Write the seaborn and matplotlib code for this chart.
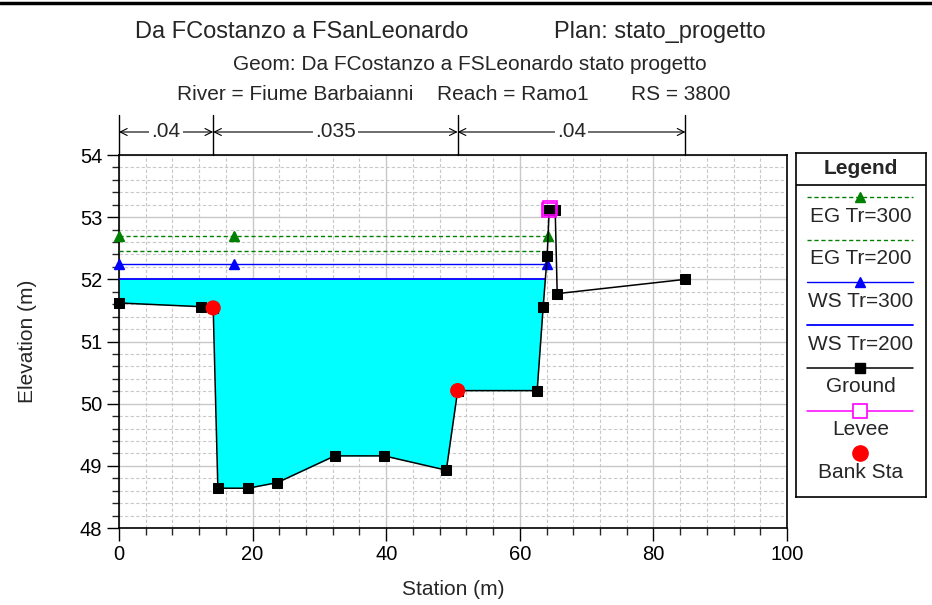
import numpy as np
import matplotlib
matplotlib.use("Agg")
import matplotlib.pyplot as plt
import seaborn as sns
from matplotlib.lines import Line2D

# ---------------- data ----------------
station = [0.0, 12.3, 14.1, 14.8, 19.3, 23.7, 32.3, 39.7, 49.0, 50.7, 62.6, 63.5, 64.1, 64.4, 65.3, 65.6, 84.8]
elevation = [51.62, 51.56, 51.54, 48.64, 48.64, 48.73, 49.16, 49.16, 48.93, 50.21, 50.21, 51.56, 52.38, 53.11, 53.11, 51.77, 52.0]
bank_sta = [14.1, 50.7]
bank_elev = [51.54, 50.21]
levee_sta = [64.35, 64.55]
levee_elev = [53.12, 53.14]
ws_tr200 = 52.00
ws_tr300 = 52.25
eg_tr200 = 52.45
eg_tr300 = 52.70
profile_marker_sta = [0.0, 17.2]
n_values = [".04", ".035", ".04"]
n_breaks = [0.0, 14.1, 50.7, 84.8]
x_ticks = [0, 20, 40, 60, 80, 100]
y_ticks = [48, 49, 50, 51, 52, 53, 54]

sns.set_style("white")
plt.rcParams['font.family'] = ['Liberation Sans', 'DejaVu Sans']

W, H = 932, 605
fig = plt.figure(figsize=(W / 100, H / 100), dpi=100)
ax = fig.add_axes([119 / W, 1 - 528 / H, (787 - 119) / W, (528 - 155) / H])

st = np.array(station)
el = np.array(elevation)


def right_edge(level):
    # first crossing of the water level by the ground on the right side
    for i in range(2, len(st) - 1):
        if el[i] < level <= el[i + 1]:
            return st[i] + (st[i + 1] - st[i]) * (level - el[i]) / (el[i + 1] - el[i])
    return st[-1]


x_ws200 = right_edge(ws_tr200)
x_ws300 = right_edge(ws_tr300)
x_eg200 = right_edge(eg_tr200)
x_eg300 = right_edge(eg_tr300)

# water fill (WS Tr=200)
mask = st < x_ws200
fx = np.append(st[mask], x_ws200)
fy = np.append(el[mask], ws_tr200)
ax.fill_between(fx, fy, ws_tr200, color="#00FFFF", linewidth=0, zorder=2)

# profiles
sns.lineplot(x=[0, x_eg300], y=[eg_tr300, eg_tr300], ax=ax, color="#008000", lw=1.0,
             linestyle=(0, (3, 2)), zorder=3, legend=False)
sns.lineplot(x=[0, x_eg200], y=[eg_tr200, eg_tr200], ax=ax, color="#008000", lw=1.0,
             linestyle=(0, (3, 2)), zorder=3, legend=False)
sns.lineplot(x=[0, x_ws300], y=[ws_tr300, ws_tr300], ax=ax, color="#0000FF", lw=1.0,
             zorder=3, legend=False)
sns.lineplot(x=[0, x_ws200], y=[ws_tr200, ws_tr200], ax=ax, color="#0000FF", lw=1.3,
             zorder=3, legend=False)
ax.plot(profile_marker_sta + [x_eg300], [eg_tr300] * 3, ls="none", marker="^",
        color="#008000", ms=7, zorder=4, clip_on=False)
ax.plot(profile_marker_sta + [x_ws300], [ws_tr300] * 3, ls="none", marker="^",
        color="#0000FF", ms=7, zorder=4, clip_on=False)

# ground
sns.lineplot(x=station, y=elevation, ax=ax, sort=False, estimator=None, color="black",
             lw=1.1, marker="s", markersize=6.5, markeredgecolor="black", zorder=5,
             legend=False, clip_on=False)
# levee
ax.plot(levee_sta, levee_elev, ls="none", marker="s", ms=10, mfc="none",
        mec="#FF00FF", mew=1.2, zorder=6)
# bank stations
sns.scatterplot(x=bank_sta, y=bank_elev, ax=ax, color="#FF0000", s=120,
                edgecolor="none", zorder=7, legend=False)

# axes formatting
ax.set_xlim(0, 100)
ax.set_ylim(48, 54)
ax.set_xticks(x_ticks)
ax.set_yticks(y_ticks)
ax.set_xticks(np.arange(0, 101, 4), minor=True)
ax.set_yticks(np.arange(48, 54.01, 0.2), minor=True)
ax.grid(which="major", color="#c8c8c8", lw=1.0, zorder=0)
ax.grid(which="minor", color="#c8c8c8", lw=0.8, ls=(0, (3, 2)), zorder=0)
ax.set_axisbelow(True)
ax.tick_params(which="major", direction="out", length=9, width=1, labelsize=14.5,
               bottom=True, left=True, colors="black", pad=3)
ax.tick_params(which="minor", direction="out", length=5, width=1, bottom=True, left=True)
for s in ax.spines.values():
    s.set_color("black")
    s.set_linewidth(1.2)
ax.set_xlabel("Station (m)", fontsize=15, labelpad=12)
ax.set_ylabel("Elevation (m)", fontsize=15, labelpad=31)

# Manning's n annotations
y_arr = 54.37
for b in n_breaks:
    ax.plot([b, b], [54.0, 54.65], color="black", lw=1.0, clip_on=False, zorder=3)
for i, n in enumerate(n_values):
    a, b = n_breaks[i], n_breaks[i + 1]
    ax.annotate("", xy=(b, y_arr), xytext=(a, y_arr), annotation_clip=False,
                arrowprops=dict(arrowstyle="<->,head_length=0.5,head_width=0.25",
                                lw=0.8, color="black", shrinkA=0, shrinkB=0))
    ax.text((a + b) / 2, y_arr, n, ha="center", va="center", fontsize=15, clip_on=False,
            bbox=dict(facecolor="white", edgecolor="none", pad=1.5))

# titles
fig.text(301.5 / W, 1 - 32 / H, "Da FCostanzo a FSanLeonardo", ha="center", va="center", fontsize=17)
fig.text(659.5 / W, 1 - 32 / H, "Plan: stato_progetto", ha="center", va="center", fontsize=17)
fig.text(469.5 / W, 1 - 65 / H, "Geom: Da FCostanzo a FSLeonardo stato progetto",
         ha="center", va="center", fontsize=15)
fig.text(177 / W, 1 - 95 / H, "River = Fiume Barbaianni", ha="left", va="center", fontsize=15)
fig.text(437 / W, 1 - 95 / H, "Reach = Ramo1", ha="left", va="center", fontsize=15)
fig.text(631 / W, 1 - 95 / H, "RS = 3800", ha="left", va="center", fontsize=15)

# top border line
fig.add_artist(Line2D([0, 1], [1 - 3 / H, 1 - 3 / H], color="black", lw=2.5))

# legend box
lx0, ly0, lw_, lh_ = 796, 153, 130, 344
lax = fig.add_axes([lx0 / W, 1 - (ly0 + lh_) / H, lw_ / W, lh_ / H])
lax.set_xlim(0, lw_)
lax.set_ylim(lh_, 0)
lax.set_xticks([])
lax.set_yticks([])
for s in lax.spines.values():
    s.set_color("black")
    s.set_linewidth(1.2)
lax.text(lw_ / 2, 16, "Legend", ha="center", va="center", fontsize=15, fontweight="bold")
lax.plot([0, lw_], [32, 32], color="black", lw=1.2)
xl = [11, 117]
xm = 64
entries = [
    ("EG Tr=300", dict(color="#008000", ls=(0, (3, 2)), lw=1.0), dict(marker="^", color="#008000", ms=7)),
    ("EG Tr=200", dict(color="#008000", ls=(0, (3, 2)), lw=1.0), None),
    ("WS Tr=300", dict(color="#0000FF", lw=1.0), dict(marker="^", color="#0000FF", ms=7)),
    ("WS Tr=200", dict(color="#0000FF", lw=1.3), None),
    ("Ground", dict(color="black", lw=1.1), dict(marker="s", color="black", ms=6.5)),
    ("Levee", dict(color="#FF00FF", lw=1.1), dict(marker="s", mfc="white", mec="#FF00FF", ms=10, mew=1.2)),
    ("Bank Sta", None, dict(marker="o", color="#FF0000", ms=11)),
]
for k, (lab, lstyle, mstyle) in enumerate(entries):
    yl = 44 + k * 42.7
    if lstyle is not None:
        lax.plot(xl, [yl, yl], **lstyle)
    if mstyle is not None:
        lax.plot([xm], [yl], ls="none", **mstyle)
    lax.text(lw_ / 2, yl + 19, lab, ha="center", va="center", fontsize=15)

fig.savefig("out.png", dpi=100)
